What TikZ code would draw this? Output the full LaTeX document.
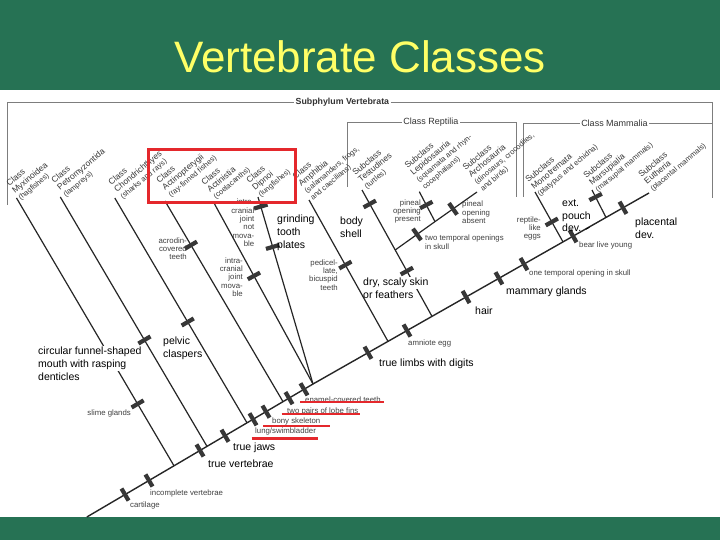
\documentclass[tikz,border=0pt]{standalone}
\usepackage{fontspec}
\setmainfont{Liberation Sans}
\definecolor{bggreen}{RGB}{38,114,84}
\definecolor{titleyellow}{RGB}{255,255,102}
\definecolor{tickgray}{RGB}{55,55,55}
\definecolor{labgray}{RGB}{55,55,55}
\definecolor{txtgray}{RGB}{64,64,64}
\definecolor{framegray}{RGB}{125,125,125}
\definecolor{boxred}{RGB}{228,40,44}
\newcommand\cladenote[1]{{\fontsize{7.5}{9}\selectfont #1}}
\begin{document}
\begin{tikzpicture}[x=1pt,y=-1pt,
  trunk/.style={draw=black!85, line width=1.4pt, line join=round},
  branch/.style={draw=black!85, line width=1.2pt, line join=round},
  tk/.style={sloped, rectangle, fill=tickgray, minimum width=4.2pt, minimum height=14pt, inner sep=0pt, draw=none},
  clade/.style={rotate=40, anchor=south west, align=left, inner sep=0pt, text=labgray, font=\fontsize{8.5}{9}\selectfont},
  smalltxt/.style={inner sep=0pt, text=txtgray, font=\fontsize{7.8}{8.3}\selectfont},
  bigtxt/.style={inner sep=0pt, text=black, font=\fontsize{10.5}{13}\selectfont},
  framel/.style={draw=framegray, line width=0.8pt},
  redline/.style={draw=boxred, line width=2.6pt},
]
\useasboundingbox (0,0) rectangle (720,540);
\fill[bggreen] (0,0) rectangle (720,540);
\fill[white] (0,90) rectangle (720,517);
\node[font=\fontsize{44}{48}\selectfont, text=titleyellow, inner sep=0pt] (title) at (360,57) {Vertebrate Classes};

% header brackets
\node[font=\bfseries\fontsize{8.8}{10}\selectfont, text=black!80, inner sep=1.5pt, anchor=west] (hSub) at (294,102) {Subphylum Vertebrata};
\draw[framel] (7,205) -- (7,102) -- (hSub.west);
\draw[framel] (hSub.east) -- (712,102) -- (712,198);
\node[font=\fontsize{9}{10}\selectfont, text=black!80, inner sep=1.5pt] (hRep) at (431,122.5) {Class Reptilia};
\draw[framel] (347,187) -- (347,122.5) -- (hRep.west);
\draw[framel] (hRep.east) -- (516,122.5) -- (516,197);
\node[font=\fontsize{9}{10}\selectfont, text=black!80, inner sep=1.5pt] (hMam) at (614.5,123) {Class Mammalia};
\draw[framel] (523,197) -- (523,123) -- (hMam.west);
\draw[framel] (hMam.east) -- (712,123);

% coordinates
\coordinate (S) at (86.85,517);
\coordinate (jMyx) at (174,465.8);
\coordinate (jPet) at (207,446.35);
\coordinate (jCho) at (247,422.83);
\coordinate (jAct) at (283,401.66);
\coordinate (jSar) at (313,384);
\coordinate (jAmp) at (388,341.37);
\coordinate (jRep) at (432,316.35);
\coordinate (jMon) at (563,241.9);
\coordinate (jMar) at (606,217.44);
\coordinate (E) at (649,193);
\coordinate (tMyx) at (16.5,198);
\coordinate (tPet) at (60.3,197);
\coordinate (tCho) at (114.8,198);
\coordinate (tAct) at (165,201);
\coordinate (tAcn) at (214,203);
\coordinate (tDip) at (258,197);
\coordinate (tAmp) at (309,200);
\coordinate (jLA) at (395.2,250);
\coordinate (tTes) at (362,190);
\coordinate (jLep) at (435,221.6);
\coordinate (tLep) at (419.3,191.7);
\coordinate (tArc) at (477,192);
\coordinate (tMon) at (535,192);
\coordinate (tMar) at (592,190);

% trunk
\draw[trunk] (S) -- node[tk,pos=.438] (k1) {} node[tk,pos=.713] (k2) {} (jMyx)
  -- node[tk,pos=.788] (k3) {} (jPet)
  -- node[tk,pos=.45] (k4) {} (jCho)
  -- node[tk,pos=.167] (k5) {} node[tk,pos=.528] (k6) {} (jAct)
  -- node[tk,pos=.2] (k7) {} node[tk,pos=.7] (k8) {} (jSar)
  -- node[tk,pos=.733] (k9) {} (jAmp)
  -- node[tk,pos=.432] (k10) {} (jRep)
  -- node[tk,pos=.26] (k11) {} node[tk,pos=.511] (k12) {} node[tk,pos=.702] (k13) {} (jMon)
  -- node[tk,pos=.233] (k14) {} (jMar)
  -- node[tk,pos=.395] (k15) {} (E);

% branches
\draw[branch] (jMyx) -- node[tk,pos=.231] (b1) {} (tMyx);
\draw[branch] (jPet) -- node[tk,pos=.4265] (b2) {} (tPet);
\draw[branch] (jCho) -- node[tk,pos=.4485] (b3) {} (tCho);
\draw[branch] (jAct) -- node[tk,pos=.78] (b4) {} (tAct);
\draw[branch] (jSar) -- node[tk,pos=.597] (b5) {} (tAcn);
\draw[branch] (jSar) -- node[tk,pos=.733] (b6) {} node[tk,pos=.949] (b7) {} (tDip);
\draw[branch] (jAmp) -- node[tk,pos=.54] (b8) {} (tAmp);
\draw[branch] (jRep) -- node[tk,pos=.683] (b9) {} (jLA) -- node[tk,pos=.767] (b10) {} (tTes);
\draw[branch] (jLA) -- node[tk,pos=.548] (b11) {} (jLep) -- node[tk,pos=.429] (b12) {} (tArc);
\draw[branch] (jLep) -- node[tk,pos=.555] (b13) {} (tLep);
\draw[branch] (jMon) -- node[tk,pos=.4] (b14) {} (tMon);
\draw[branch] (jMar) -- node[tk,pos=.745] (b15) {} (tMar);

% clade labels
\node[clade] (lMyx) at (22,202) {Class\\Myxinoidea\\\cladenote{(hagfishes)}};
\node[clade] (lPet) at (67,199) {Class\\Petromyzontida\\\cladenote{(lampreys)}};
\node[clade] (lCho) at (124,201) {Class\\Chondrichthyes\\\cladenote{(sharks and rays)}};
\node[clade] (lAct) at (172,199) {Class\\Actinopterygii\\\cladenote{(ray-finned fishes)}};
\node[clade] (lAcn) at (217,201) {Class\\Actinistia\\\cladenote{(coelacanths)}};
\node[clade] (lDip) at (262,199) {Class\\Dipnoi\\\cladenote{(lungfishes)}};
\node[clade] (lAmp) at (314,202) {Class\\Amphibia\\\cladenote{(salamanders, frogs,}\\\cladenote{and caecilians)}};
\node[clade] (lTes) at (368,191) {Subclass\\Testudines\\\cladenote{(turtles)}};
\node[clade] (lLep) at (426,191) {Subclass\\Lepidosauria\\\cladenote{(squamata and rhyn-}\\\cladenote{cocephalians)}};
\node[clade] (lArc) at (484,193) {Subclass\\Archosauria\\\cladenote{(dinosaurs, crocodiles,}\\\cladenote{and birds)}};
\node[clade] (lMon) at (541,198) {Subclass\\Monotremata\\\cladenote{(platypus and echidna)}};
\node[clade] (lMar) at (599,194) {Subclass\\Marsupialia\\\cladenote{(marsupial mammals)}};
\node[clade] (lEut) at (654,193) {Subclass\\Eutheria\\\cladenote{(placental mammals)}};

% small trait labels
\node[smalltxt, anchor=west] (nCart) at (130,505) {cartilage};
\node[smalltxt, anchor=west] (nIncV) at (150,493) {incomplete vertebrae};
\node[smalltxt, anchor=east] (nSlime) at (131,413) {slime glands};
\node[smalltxt, anchor=west] (nLung) at (255,431.5) {lung/swimbladder};
\node[smalltxt, anchor=west] (nBony) at (272,421) {bony skeleton};
\node[smalltxt, anchor=west] (nLobe) at (287,411.5) {two pairs of lobe fins};
\node[smalltxt, anchor=west] (nEnam) at (305,400) {enamel-covered teeth};
\node[smalltxt, anchor=west] (nAmn) at (408,343.5) {amniote egg};
\node[smalltxt, anchor=west] (nOneT) at (529,273.5) {one temporal opening in skull};
\node[smalltxt, anchor=west] (nLive) at (579,245.5) {bear live young};
\node[smalltxt, anchor=north west, align=left] (nTwoT) at (425,235) {two temporal openings\\in skull};
\node[smalltxt, anchor=north east, align=right] (nPinP) at (421,199.5) {pineal\\opening\\present};
\node[smalltxt, anchor=north west, align=left] (nPinA) at (462,201) {pineal\\opening\\absent};
\node[smalltxt, anchor=north east, align=right] (nEggs) at (541,216.5) {reptile-\\like\\eggs};
\node[smalltxt, anchor=north east, align=right] (nAcro) at (187,237.5) {acrodin-\\covered\\teeth};
\node[smalltxt, anchor=north east, align=right] (nCrNot) at (254.5,199) {intra-\\cranial\\joint\\not\\mova-\\ble};
\node[smalltxt, anchor=north east, align=right] (nCrMov) at (243,257.5) {intra-\\cranial\\joint\\mova-\\ble};
\node[smalltxt, anchor=north east, align=right] (nPedi) at (338,259.5) {pedicel-\\late,\\bicuspid\\teeth};

% red underlines
\draw[redline] (251.7,438.3) -- (318.3,438.3);
\draw[redline] (263,426) -- (330,426);
\draw[redline] (281.7,414) -- (360,414);
\draw[redline] (300,402) -- (384,402);

% large annotations
\node[bigtxt, anchor=north west, fill=white, inner sep=0.8pt, align=left] (nCirc) at (37.2,346.2) {circular funnel-shaped\\mouth with rasping};
\node[bigtxt, anchor=base west] (nDent) at (38,380.7) {denticles};
\node[bigtxt, anchor=north west, align=left] (nPelv) at (163,337) {pelvic\\claspers};
\node[bigtxt, anchor=north west, align=left] (nGrind) at (277,215) {grinding\\tooth\\plates};
\node[bigtxt, anchor=north west, align=left] (nBody) at (340,217) {body\\shell};
\node[bigtxt, anchor=north west, fill=white, inner sep=0.8pt] (nDry) at (362.2,277.2) {dry, scaly skin};
\node[bigtxt, anchor=base west] (nFeat) at (363,298.7) {or feathers};
\node[bigtxt, anchor=west] (nLimb) at (379,364) {true limbs with digits};
\node[bigtxt, anchor=west] (nHair) at (475,311) {hair};
\node[bigtxt, anchor=west] (nMamm) at (506,292) {mammary glands};
\node[bigtxt, anchor=west] (nTVert) at (208,464) {true vertebrae};
\node[bigtxt, anchor=west] (nJaws) at (233,448) {true jaws};
\node[bigtxt, anchor=north west, align=left, font=\fontsize{10.5}{12.7}\selectfont] (nPouch) at (562,199.5) {ext.\\pouch\\dev.};
\node[bigtxt, anchor=north west, align=left] (nPlac) at (635,218) {placental\\dev.};
\coordinate (devA) at (586,229.2);
\coordinate (devB) at (589.5,227.4);
\draw[line width=0.8pt] (devA) -- (devB);

% highlight box
\draw[draw=boxred, line width=3pt] (148,150) rectangle (295,203);
\end{tikzpicture}
\end{document}
